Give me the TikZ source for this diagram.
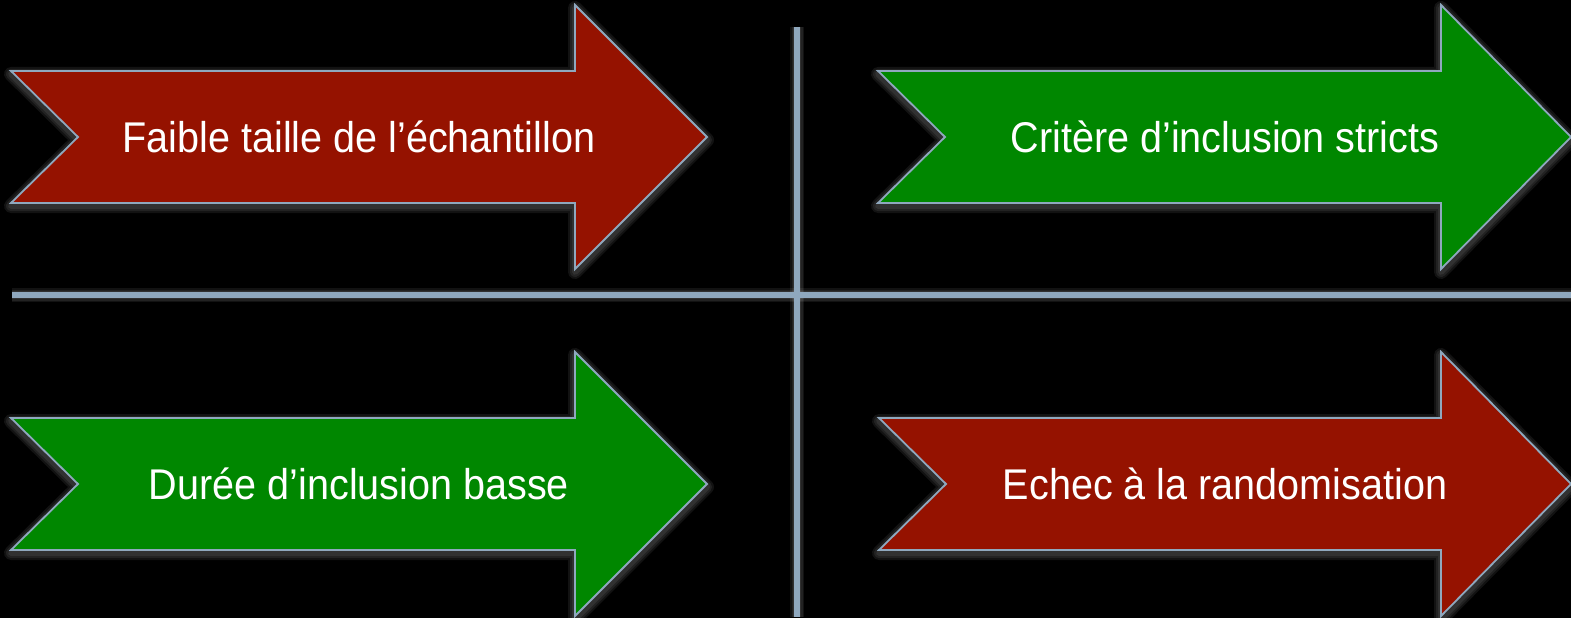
\documentclass[tikz,border=0pt]{standalone}
\usepackage{fontspec}
\setmainfont{Liberation Sans}[FakeStretch=0.92]
\definecolor{linec}{HTML}{8FA8BE}
\definecolor{redf}{HTML}{951200}
\definecolor{greenf}{HTML}{008700}
\tikzset{
  arrowbody/.style={draw=linec, line width=1.8pt, line join=miter},
  sepline/.style={draw=linec, line width=5.5pt},
  glow/.style={draw=white, line join=round, opacity=0.07},
  lbl/.style={text=white, font=\fontsize{43}{50}\selectfont, inner sep=0pt, anchor=base}
}
\begin{document}
\begin{tikzpicture}[x=1pt,y=-1pt]
\fill[black] (0,0) rectangle (1571,618);
\useasboundingbox (0,0) rectangle (1571,618);
% separators
\coordinate (vt) at (797,27);
\coordinate (vb) at (797,617);
\coordinate (hl) at (12,295);
\coordinate (hr) at (1571,295);
\foreach \w in {14,11,8}{
  \draw[glow, line width=\w pt, yshift=-2pt] (vt) -- (vb);
  \draw[glow, line width=\w pt, yshift=-2pt] (hl) -- (hr);
}
\draw[sepline] (vt) -- (vb);
\draw[sepline] (hl) -- (hr);
% arrows
\newcommand{\arrowpath}[4]{(#1,#3-66) -- (#2,#3-66) -- (#2,#3-132) -- (#4,#3) -- (#2,#3+132) -- (#2,#3+66) -- (#1,#3+66) -- (#1+67,#3) -- cycle}
\newcommand{\myarrow}[5]{% x0, shaftend, ymid, tip, fill
  \foreach \w in {14,10,6}{\draw[glow, line width=\w pt, yshift=-3pt] \arrowpath{#1}{#2}{#3}{#4};}
  \filldraw[arrowbody, fill=#5] \arrowpath{#1}{#2}{#3}{#4};}
\myarrow{11}{575}{137}{707}{redf}
\myarrow{878}{1441}{137}{1571}{greenf}
\myarrow{11}{575}{484}{707}{greenf}
\myarrow{879}{1441}{484}{1571}{redf}
\node[lbl] (t1) at (359,152) {Faible taille de l’échantillon};
\node[lbl] (t2) at (1225,152) {Critère d’inclusion stricts};
\node[lbl] (t3) at (359,499) {Durée d’inclusion basse};
\node[lbl] (t4) at (1225,499) {Echec à la randomisation};
\end{tikzpicture}
\end{document}
